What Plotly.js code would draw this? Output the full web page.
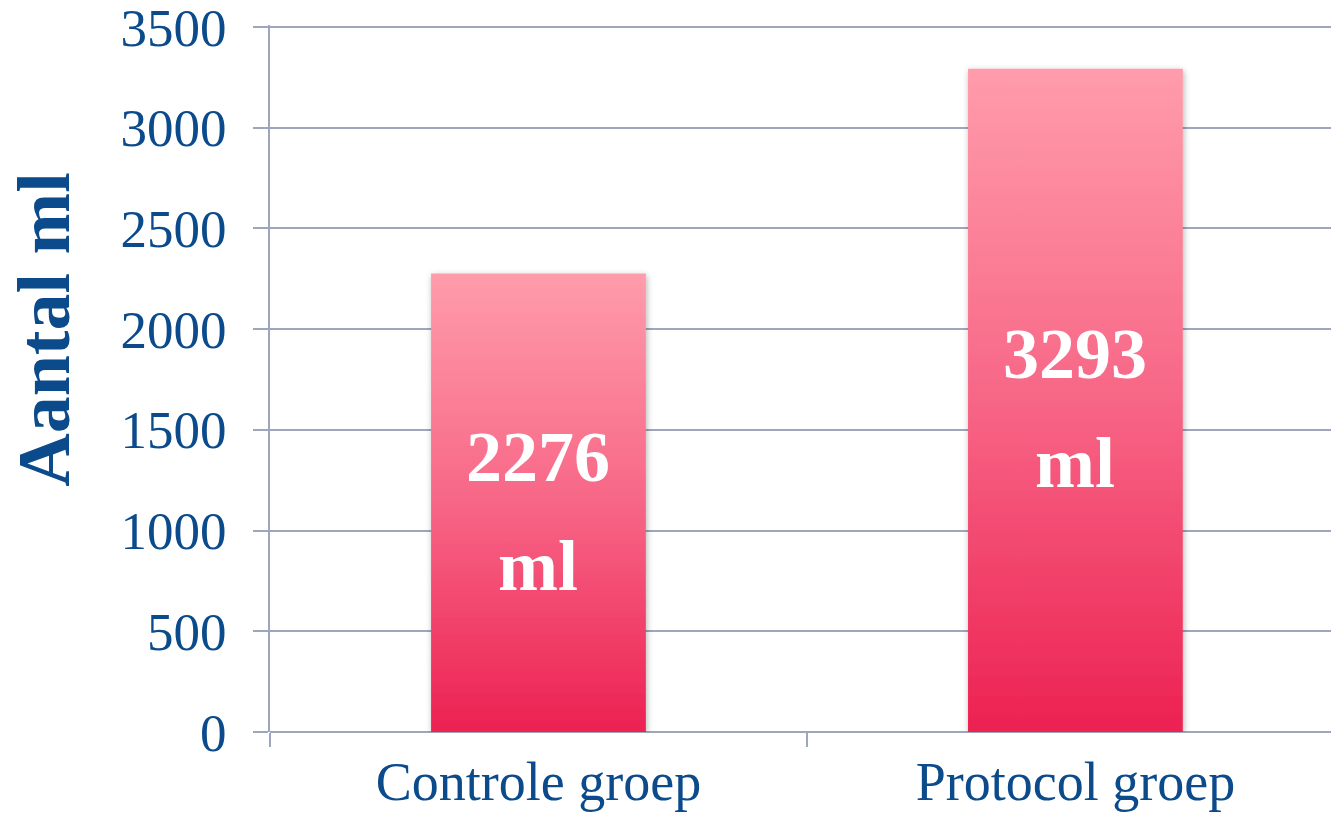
<!DOCTYPE html>
<html>
<head>
<meta charset="utf-8">
<script src="https://cdn.plot.ly/plotly-3.0.1.min.js"></script>
<style>
html,body{margin:0;padding:0;background:#fff;}
#chart{width:1331px;height:821px;}
</style>
</head>
<body>
<div id="chart"></div>
<script>
// ---- data ----
const categories = ["Controle groep", "Protocol groep"];
const values = [2276, 3293];
const unit = "ml";
const yTickValues = [0, 500, 1000, 1500, 2000, 2500, 3000, 3500];
const yTitle = "Aantal ml";

// ---- styles ----
const BLUE = "#0B4A8B";
const GRID = "#9EA6BC";
const FONT = "'Liberation Serif', 'Times New Roman', serif";

const trace = {
  type: "bar",
  x: categories,
  y: values,
  width: 0.4,
  marker: {color: "#F6577A", line: {width: 0}},
  hoverinfo: "skip"
};

const annotations = [];
categories.forEach((c, i) => {
  annotations.push({
    x: c, y: values[i] / 2, xref: "x", yref: "y",
    text: String(values[i]), showarrow: false,
    yshift: 46,
    font: {family: FONT, size: 72, color: "#ffffff", weight: "bold"}
  });
  annotations.push({
    x: c, y: values[i] / 2, xref: "x", yref: "y",
    text: unit, showarrow: false,
    yshift: -63,
    font: {family: FONT, size: 72, color: "#ffffff", weight: "bold"}
  });
});
annotations.push({
  xref: "paper", yref: "paper", x: -0.213, y: 0.569,
  xanchor: "center", yanchor: "middle",
  text: yTitle, textangle: -90, showarrow: false,
  font: {family: FONT, size: 74, color: BLUE, weight: "bold"}
});

const layout = {
  width: 1331, height: 821,
  margin: {l: 270, r: 0, t: 25, b: 89, pad: 0},
  paper_bgcolor: "#ffffff", plot_bgcolor: "#ffffff",
  showlegend: false,
  font: {family: FONT, color: BLUE},
  xaxis: {
    type: "category",
    range: [-0.5, 1.476],
    showgrid: false,
    showline: false,
    zeroline: false,
    ticks: "outside", tickson: "boundaries",
    ticklen: 14, tickwidth: 2, tickcolor: GRID,
    tickfont: {family: FONT, size: 54, color: BLUE},
    ticklabelstandoff: 13
  },
  yaxis: {
    range: [0, 3510],
    tickvals: yTickValues,
    ticktext: yTickValues.map(String),
    ticklabeloverflow: "allow",
    showgrid: true, gridcolor: GRID, gridwidth: 2,
    zeroline: true, zerolinecolor: GRID, zerolinewidth: 2,
    showline: true, linecolor: GRID, linewidth: 2,
    ticks: "outside", ticklen: 15, tickwidth: 2, tickcolor: GRID,
    tickfont: {family: FONT, size: 53, color: BLUE},
    ticklabelstandoff: 16
  },
  annotations: annotations
};

Plotly.newPlot("chart", [trace], layout, {staticPlot: true, displayModeBar: false}).then(gd => {
  const svg = gd.querySelector("svg.main-svg");
  const ns = "http://www.w3.org/2000/svg";
  let defs = svg.querySelector("defs");
  if (!defs) { defs = document.createElementNS(ns, "defs"); svg.insertBefore(defs, svg.firstChild); }
  const grad = document.createElementNS(ns, "linearGradient");
  grad.setAttribute("id", "barGrad");
  grad.setAttribute("x1", "0"); grad.setAttribute("y1", "0");
  grad.setAttribute("x2", "0"); grad.setAttribute("y2", "1");
  [["0", "#FF9CAB"], ["0.5", "#F76686"], ["1", "#EC2152"]].forEach(([o, c]) => {
    const s = document.createElementNS(ns, "stop");
    s.setAttribute("offset", o); s.setAttribute("stop-color", c);
    grad.appendChild(s);
  });
  defs.appendChild(grad);
  const filt = document.createElementNS(ns, "filter");
  filt.setAttribute("id", "barShadow");
  filt.setAttribute("x", "-20%"); filt.setAttribute("y", "-20%");
  filt.setAttribute("width", "140%"); filt.setAttribute("height", "140%");
  const ds = document.createElementNS(ns, "feDropShadow");
  ds.setAttribute("dx", "1"); ds.setAttribute("dy", "2");
  ds.setAttribute("stdDeviation", "3");
  ds.setAttribute("flood-color", "#000"); ds.setAttribute("flood-opacity", "0.3");
  filt.appendChild(ds);
  defs.appendChild(filt);
  gd.querySelectorAll(".trace.bars .point path").forEach(p => {
    p.style.fill = "url(#barGrad)";
    p.style.fillOpacity = "1";
    p.setAttribute("filter", "url(#barShadow)");
  });
});
</script>
</body>
</html>
